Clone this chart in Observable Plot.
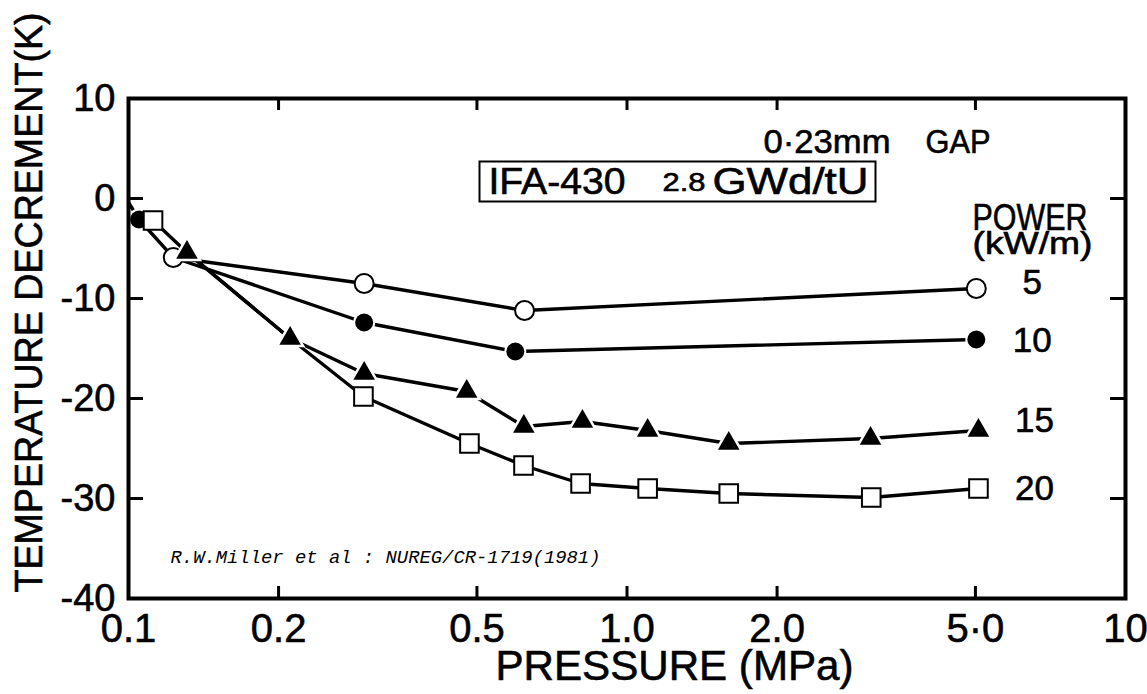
<!DOCTYPE html>
<html>
<head>
<meta charset="utf-8">
<script src="https://cdn.jsdelivr.net/npm/d3@7"></script>
<script src="https://cdn.jsdelivr.net/npm/@observablehq/plot@0.6"></script>
<style>
  html, body { margin: 0; padding: 0; background: #fff; }
  #chart svg { display: block; }
</style>
</head>
<body>
<div id="chart"></div>
<script>
// ---- axis ticks ----
const xTicks = [0.1, 0.2, 0.5, 1, 2, 5, 10];
const xTickLabels = ["0.1", "0.2", "0.5", "1.0", "2.0", "5·0", "10"];
const yTicks = [10, 0, -10, -20, -30, -40];
const yTickLabels = ["10", "0", "-10", "-20", "-30", "-40"];

// ---- series (power, kW/m) ----
const powers = ["5", "10", "15", "20"];

// markers
const pressure5 = [0.123, 0.297, 0.623, 5.02];
const decrement5 = [-5.9, -8.5, -11.2, -9.0];
const pressure10 = [0.105, 0.297, 0.597, 5.02];
const decrement10 = [-2.1, -12.4, -15.3, -14.1];
const pressure15 = [0.131, 0.211, 0.297, 0.477, 0.621, 0.814, 1.10, 1.60, 3.08, 5.07];
const decrement15 = [-5.4, -14.0, -17.5, -19.3, -22.8, -22.3, -23.2, -24.5, -24.0, -23.2];
const pressure20 = [0.112, 0.296, 0.483, 0.62, 0.807, 1.10, 1.60, 3.09, 5.07];
const decrement20 = [-2.2, -19.8, -24.5, -26.7, -28.5, -29.0, -29.5, -29.9, -29.0];

// connecting lines as drawn in the figure (curves share vertices near the origin)
const line5Pressure = [0.123, 0.297, 0.623, 5.02];
const line5Decrement = [-5.9, -8.5, -11.2, -9.0];
const line10Pressure = [0.1, 0.105, 0.123, 0.297, 0.597, 5.02];
const line10Decrement = [-0.4, -2.1, -5.9, -12.4, -15.3, -14.1];
const line15Pressure = [0.131, 0.211, 0.297, 0.477, 0.621, 0.814, 1.10, 1.60, 3.08, 5.07];
const line15Decrement = [-5.4, -14.0, -17.5, -19.3, -22.8, -22.3, -23.2, -24.5, -24.0, -23.2];
const line20Pressure = [0.112, 0.131, 0.211, 0.296, 0.483, 0.62, 0.807, 1.10, 1.60, 3.09, 5.07];
const line20Decrement = [-2.2, -5.4, -14.0, -19.8, -24.5, -26.7, -28.5, -29.0, -29.5, -29.9, -29.0];

// ---- build tables ----
const zip = (px, py, power) => px.map((p, i) => ({pressure: p, decrement: py[i], power}));
const markerSets = {
  "5": zip(pressure5, decrement5, "5"),
  "10": zip(pressure10, decrement10, "10"),
  "15": zip(pressure15, decrement15, "15"),
  "20": zip(pressure20, decrement20, "20")
};
const lineSets = [
  ...zip(line5Pressure, line5Decrement, "5"),
  ...zip(line10Pressure, line10Decrement, "10"),
  ...zip(line15Pressure, line15Decrement, "15"),
  ...zip(line20Pressure, line20Decrement, "20")
];

// marker styles
const markerStyle = {
  "5":  {symbol: "circle",   r: 9.5, fill: "white", stroke: "black", strokeWidth: 2},
  "10": {symbol: "circle",   r: 9,   fill: "black", stroke: "white", strokeWidth: 4, paintOrder: "stroke"},
  "15": {symbol: "triangle", r: 8,   fill: "black", stroke: "white", strokeWidth: 5, paintOrder: "stroke"},
  "20": {symbol: "square",   r: 10.5, fill: "white", stroke: "black", strokeWidth: 2}
};
const labelDy = {"5": -6, "10": 1, "15": -10, "20": 0};

const W = 1147, H = 694;
const mL = 128, mR = 22, mT = 98, mB = 96;
const innerW = W - mL - mR, innerH = H - mT - mB;

const fontMain = "'Liberation Sans', Arial, Helvetica, sans-serif";

const marks = [];

// connecting lines
marks.push(Plot.line(lineSets, {x: "pressure", y: "decrement", z: "power", stroke: "black", strokeWidth: 3.4, curve: "linear"}));

// markers
for (const p of powers) {
  marks.push(Plot.dot(markerSets[p], {x: "pressure", y: "decrement", ...markerStyle[p]}));
}

// series labels at last point
for (const p of powers) {
  const last = markerSets[p][markerSets[p].length - 1];
  marks.push(Plot.text([last], {x: "pressure", y: "decrement", text: () => p, dx: 56, dy: labelDy[p],
    textAnchor: "middle", lineAnchor: "middle", fontSize: 35, fill: "black"}));
}

// inward ticks
const innerX = xTicks.slice(1, -1);
const innerY = yTicks.slice(1, -1);
marks.push(Plot.ruleX(innerX, {x: d => d, insetTop: innerH - 12, strokeWidth: 3}));
marks.push(Plot.ruleX(innerX, {x: d => d, insetBottom: innerH - 12, strokeWidth: 3}));
marks.push(Plot.ruleY(innerY, {y: d => d, insetRight: innerW - 15, strokeWidth: 3}));
marks.push(Plot.ruleY(innerY, {y: d => d, insetLeft: innerW - 15, strokeWidth: 3}));

// frame
marks.push(Plot.frame({stroke: "black", strokeWidth: 4}));

// tick labels
marks.push(Plot.axisX({ticks: xTicks, tickSize: 0, tickPadding: 15, fontSize: 40, label: null,
  tickFormat: d => xTickLabels[xTicks.indexOf(d)]}));
marks.push(Plot.axisY({ticks: yTicks, tickSize: 0, tickPadding: 13, fontSize: 38, label: null,
  tickFormat: d => yTickLabels[yTicks.indexOf(d)]}));

// axis titles
const X_TITLE = "PRESSURE (MPa)";
const Y_TITLE = "TEMPERATURE DECREMENT(K)";
const CITE = "R.W.Miller et al : NUREG/CR-1719(1981)";
marks.push(Plot.text([X_TITLE], {text: d => d, frameAnchor: "bottom", dx: 47.5, dy: 68,
  textAnchor: "middle", lineAnchor: "middle", fontSize: 42}));
marks.push(Plot.text([Y_TITLE], {text: d => d, frameAnchor: "left", dx: -99, dy: -46,
  rotate: -90, textAnchor: "middle", lineAnchor: "middle", fontSize: 39}));

// annotations
const ann = (txt, dx, dy, fontSize) =>
  Plot.text([txt], {text: d => d, frameAnchor: "top-left", dx, dy, textAnchor: "start", lineAnchor: "bottom", fontSize});
marks.push(ann("0·23mm", 635, 54, 33));
marks.push(ann("GAP", 797, 54, 33));
marks.push(ann("IFA-430", 360, 95, 36));
marks.push(ann("2.8", 534, 92, 25));
marks.push(ann("GWd/tU", 584, 95, 36));
marks.push(ann("POWER", 844, 131, 37));
marks.push(ann("(kW/m)", 844, 155, 31));
marks.push(Plot.text([CITE], {text: d => d, frameAnchor: "top-left",
  dx: 42, dy: 458, textAnchor: "start", lineAnchor: "middle", fontSize: 19, fontStyle: "italic",
  fontFamily: "'Liberation Mono', 'DejaVu Sans Mono', monospace"}));

const chart = Plot.plot({
  width: W, height: H,
  marginLeft: mL, marginRight: mR, marginTop: mT, marginBottom: mB,
  x: {type: "log", domain: [0.1, 10]},
  y: {domain: [-40, 10]},
  style: {fontFamily: fontMain, color: "black", background: "white", overflow: "visible"},
  marks
});
document.getElementById("chart").appendChild(chart);

// fit the condensed lettering of the original figure
const svg = d3.select(chart);
const byText = s => svg.selectAll("text").filter(function() { return this.textContent === s; });
const lengths = [[X_TITLE, 358], [Y_TITLE, 580], ["0·23mm", 127], ["GAP", 65], ["IFA-430", 137],
  ["2.8", 43], ["GWd/tU", 156], ["POWER", 115], ["(kW/m)", 120], [CITE, 430]];
for (const [s, len] of lengths) {
  byText(s).attr("textLength", len).attr("lengthAdjust", "spacingAndGlyphs");
}
// heavier strokes like the scanned lettering
svg.selectAll("text").filter(function() { return this.textContent !== CITE; })
  .attr("stroke", "black").attr("stroke-width", 0.6);

// box around "IFA-430 2.8 GWd/tU"
function absBox(node) {
  const b = node.getBBox();
  const m = node.getCTM();
  return {x: b.x + m.e, y: b.y + m.f, w: b.width, h: b.height};
}
const n1 = byText("IFA-430").node();
const n2 = byText("GWd/tU").node();
if (n1 && n2) {
  const a = absBox(n1), b = absBox(n2);
  const x1 = a.x - 9, x2 = b.x + b.w + 7;
  const y1 = a.y + 1, y2 = a.y + a.h;
  svg.append("rect").attr("x", x1).attr("y", y1).attr("width", x2 - x1).attr("height", y2 - y1)
    .attr("fill", "none").attr("stroke", "black").attr("stroke-width", 2);
}
</script>
</body>
</html>
